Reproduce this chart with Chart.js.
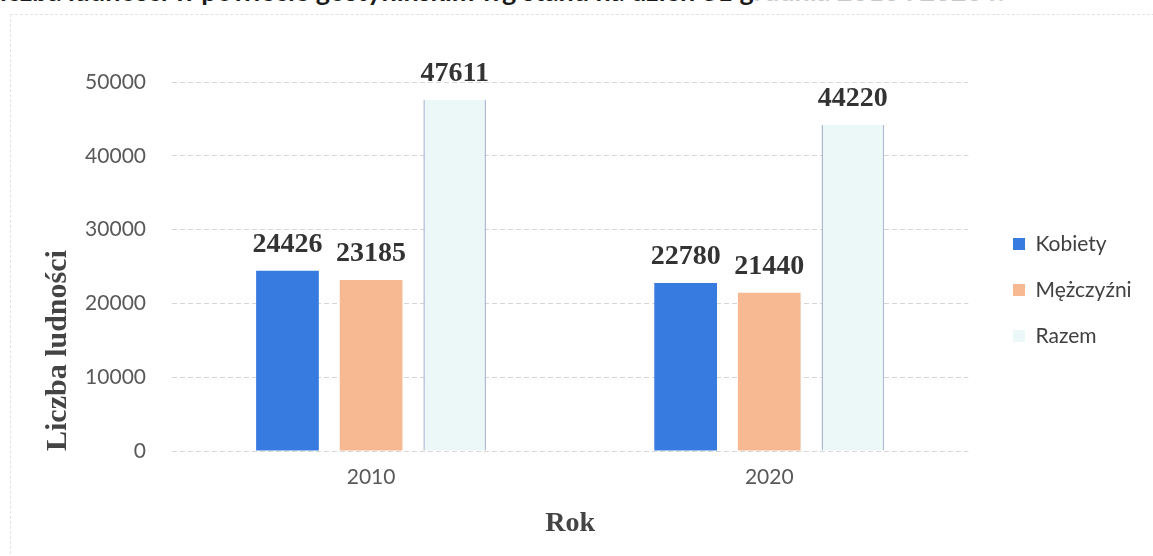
<!DOCTYPE html>
<html lang="pl">
<head>
  <meta charset="UTF-8">
  <title>Liczba ludności</title>
  <script src="https://cdn.jsdelivr.net/npm/chart.js"></script>
  <style>
    body { margin: 0; background: #fff; overflow: hidden; }
    #wrap { position: relative; width: 1153px; height: 556px; }
    #tytul {
      position: absolute; left: -14px; top: -23px; white-space: nowrap;
      font: bold 27px Lato, sans-serif; line-height: 27px; color: #1a1a1a;
    }
    #tytul span { color: #c9c9c9; }
    #ramka {
      position: absolute; left: 10px; top: 14px; width: 1150px; height: 560px;
      border: 1px dashed #e2e2e2; box-sizing: border-box;
    }
    #box { position: absolute; left: 0; top: 0; width: 1153px; height: 556px; }
  </style>
</head>
<body>
<div id="wrap">
  <div id="tytul">Liczba ludności w powiecie gostynińskim wg stanu na dzień 31 g<span>rudnia 2010 i 2020 r.</span></div>
  <div id="ramka"></div>
  <div id="box"><canvas id="wykres"></canvas></div>
</div>

<script>
  // dane
  const lata = ['2010', '2020'];
  const kobiety = [24426, 22780];
  const mezczyzni = [23185, 21440];
  const razem = [47611, 44220];
  const podzialkaY = [0, 10000, 20000, 30000, 40000, 50000];

  // wartości nad słupkami
  const etykiety = {
    id: 'etykiety',
    afterDatasetsDraw(chart) {
      const ctx = chart.ctx;
      ctx.save();
      ctx.font = 'bold 28px "Liberation Serif", "Times New Roman", serif';
      ctx.fillStyle = '#333333';
      ctx.textAlign = 'center';
      ctx.textBaseline = 'alphabetic';
      chart.data.datasets.forEach((ds, i) => {
        chart.getDatasetMeta(i).data.forEach((bar, j) => {
          ctx.fillText(ds.data[j], bar.x, bar.y - 19);
        });
      });
      ctx.restore();
    }
  };

  // przesunięcie legendy
  const legendaPoz = {
    id: 'legendaPoz',
    afterLayout(chart) {
      const lg = chart.legend;
      if (!lg) return;
      const dx = 1013 - 25 - lg.left;
      lg.left += dx; lg.right += dx;
      lg.top -= 29; lg.bottom -= 29;
    }
  };

  const config = {
    type: 'bar',
    data: {
      labels: lata,
      datasets: [
        { label: 'Kobiety', data: kobiety, backgroundColor: '#387be0', borderWidth: 0 },
        { label: 'Mężczyźni', data: mezczyzni, backgroundColor: '#f6b992', borderWidth: 0 },
        { label: 'Razem', data: razem, backgroundColor: '#ecf8f8', borderColor: '#aeb9d4',
          borderWidth: { left: 1.5, right: 1.5, top: 0, bottom: 0 } }
      ]
    },
    options: {
      responsive: true,
      maintainAspectRatio: false,
      animation: false,
      layout: { padding: { top: 82, right: 31, bottom: 0, left: 0 } },
      datasets: { bar: { barPercentage: 0.75, categoryPercentage: 0.63 } },
      scales: {
        x: {
          grid: { display: false, drawTicks: false },
          border: { display: false },
          ticks: { color: '#595959', padding: 14, font: { family: 'Lato', size: 21 } },
          title: { display: true, text: 'Rok', color: '#444444', padding: { top: 0, bottom: 15 },
            font: { family: '"Liberation Serif", serif', size: 28, weight: 'bold' } },
          afterFit(scale) { scale.height = 105; }
        },
        y: {
          min: 0, max: 50000,
          afterBuildTicks(scale) { scale.ticks = podzialkaY.map(v => ({ value: v })); },
          grid: { color: '#d6d6d6', drawTicks: false },
          border: { display: false, dash: [5, 3] },
          ticks: { color: '#595959', padding: 26, font: { family: 'Lato', size: 21 },
            callback: v => String(v) },
          title: { display: true, text: 'Liczba ludności', color: '#444444', align: 'start',
            padding: { top: 40, bottom: 0 },
            font: { family: '"Liberation Serif", serif', size: 30, weight: 'bold' } },
          afterFit(scale) { scale.width = 172; }
        }
      },
      plugins: {
        legend: {
          position: 'right',
          labels: {
            boxWidth: 12, boxHeight: 12, padding: 25, color: '#404040',
            font: { family: 'Lato', size: 21 },
            generateLabels(chart) {
              return Chart.defaults.plugins.legend.labels.generateLabels(chart)
                .map(it => Object.assign(it, { lineWidth: 0 }));
            }
          }
        },
        tooltip: { enabled: false }
      }
    },
    plugins: [etykiety, legendaPoz]
  };

  new Chart(document.getElementById('wykres').getContext('2d'), config);
</script>
</body>
</html>
